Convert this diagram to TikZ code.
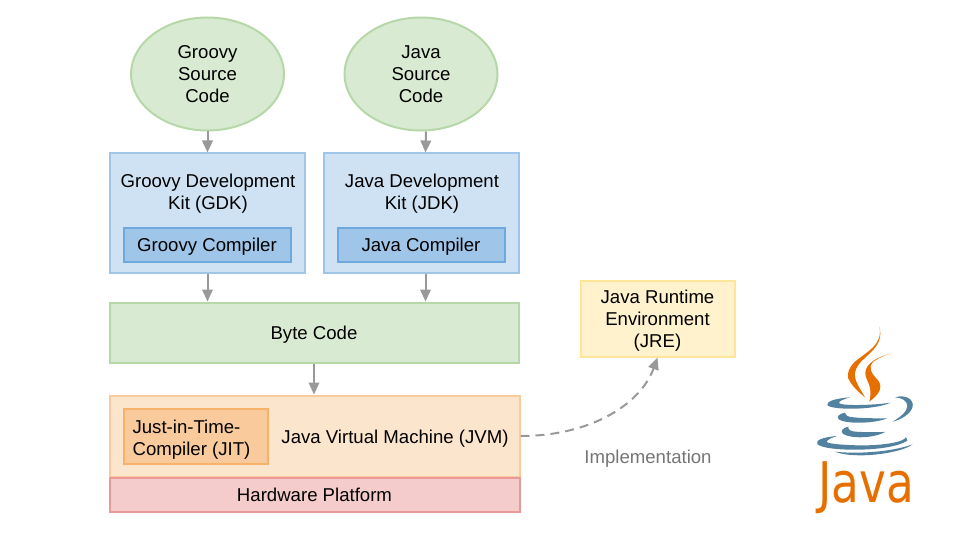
\documentclass[tikz,border=0pt]{standalone}
\usepackage{fontspec}
\setmainfont{Liberation Sans}
\newfontfamily\logofont{DejaVu Sans}
\usetikzlibrary{arrows.meta,shapes.geometric}
\definecolor{greenfill}{HTML}{D9EAD3}
\definecolor{greenline}{HTML}{B6D7A8}
\definecolor{bluefill}{HTML}{CFE2F3}
\definecolor{blueline}{HTML}{9FC5E8}
\definecolor{deepfill}{HTML}{9FC5E8}
\definecolor{deepline}{HTML}{6FA8DC}
\definecolor{yellowfill}{HTML}{FFF2CC}
\definecolor{yellowline}{HTML}{FFE599}
\definecolor{orangefill}{HTML}{FCE5CD}
\definecolor{orangeline}{HTML}{F9CB9C}
\definecolor{jitfill}{HTML}{F9CB9C}
\definecolor{jitline}{HTML}{F6B26B}
\definecolor{redfill}{HTML}{F4CCCC}
\definecolor{redline}{HTML}{EA9999}
\definecolor{arrowgray}{HTML}{999999}
\definecolor{labelgray}{HTML}{757575}
\definecolor{javaorange}{HTML}{E76F00}
\definecolor{javablue}{HTML}{5382A1}
\tikzset{
  txt/.style={inner sep=0pt,align=center,font=\fontsize{18.6}{22}\selectfont},
  box/.style={draw=#1,line width=2pt,txt},
  oneline/.style={text height=18pt,text depth=4pt},
  srcnode/.style={ellipse,box=greenline,fill=greenfill,minimum width=153,minimum height=113},
  flow/.style={draw=arrowgray,line width=2pt,-{Triangle[length=12pt,width=10.5pt]}},
}
\begin{document}
\begin{tikzpicture}[x=1pt,y=-1pt]
\useasboundingbox (0,0) rectangle (960,540);
% sources
\node[srcnode] (groovysrc) at (207.5,74) {Groovy\\Source\\Code};
\node[srcnode] (javasrc) at (421,74) {Java\\Source\\Code};
% kits
\node[box=blueline,fill=bluefill,minimum width=195,minimum height=119] (gdk) at (207.5,213) {};
\node[txt] (gdktext) at (208,194) {Groovy Development\\Kit (GDK)};
\node[box=deepline,fill=deepfill,oneline,minimum width=167,minimum height=34] (groovyc) at (207,244.5) {Groovy Compiler};
\node[box=blueline,fill=bluefill,minimum width=195,minimum height=119] (jdk) at (421.5,213) {};
\node[txt] (jdktext) at (422,194) {Java Development\\Kit (JDK)};
\node[box=deepline,fill=deepfill,oneline,minimum width=167,minimum height=34] (javac) at (421,244.5) {Java Compiler};
% byte code and below
\node[box=greenline,fill=greenfill,oneline,minimum width=409,minimum height=60] (bytecode) at (314,332.5) {Byte Code};
\node[box=orangeline,fill=orangefill,minimum width=410,minimum height=81] (jvm) at (314.5,436) {};
\node[txt] (jvmtext) at (395,439) {Java Virtual Machine (JVM)};
\node[box=jitline,fill=jitfill,minimum width=144,minimum height=55] (jit) at (195.5,436) {};
\node[txt,align=left] (jittext) at (191.5,440) {Just-in-Time-\\Compiler (JIT)};
\node[box=redline,fill=redfill,oneline,minimum width=410,minimum height=34] (hardware) at (314.5,494.5) {Hardware Platform};
\node[box=yellowline,fill=yellowfill,minimum width=154,minimum height=76] (jre) at (657.5,318.5) {};
\node[txt] (jretext) at (657.5,321) {Java Runtime\\Environment\\(JRE)};
\node[txt,text=labelgray] (impl) at (648,458.5) {Implementation};
% arrows
\draw[flow] (groovysrc.south) -- (gdk.north);
\draw[flow] ([xshift=5pt]javasrc.south) -- ([xshift=4pt]jdk.north);
\draw[flow] (gdk.south) -- (gdk.south |- bytecode.north);
\draw[flow] ([xshift=4pt]jdk.south) -- ([xshift=4pt]jdk.south |- bytecode.north);
\draw[flow] (bytecode.south) -- (bytecode.south |- jvm.north);
\draw[flow,dash pattern=on 9pt off 6pt] (jvm.east) .. controls +(70,0) and +(-17,47) .. (jre.south);
% logo
\begin{scope}[shift={(790,310)},scale=.3333]
\fill[javaorange] (268,50) .. controls (280,105) and (230,125) .. (195,155) .. controls (170,178) and (170,205) .. (180,215) .. controls (190,232) and (210,250) .. (225,262) .. controls (205,225) and (180,200) .. (205,165) .. controls (225,135) and (285,110) .. (268,50) -- cycle;
\fill[javaorange] (305,130) .. controls (265,140) and (225,160) .. (226,190) .. controls (227,215) and (250,225) .. (238,275) .. controls (265,255) and (280,235) .. (265,212) .. controls (245,190) and (232,175) .. (250,155) .. controls (265,145) and (285,135) .. (305,130) -- cycle;
\fill[javablue] (180,262) .. controls (130,266) and (110,275) .. (112,285) .. controls (120,300) and (250,302) .. (302,278) .. controls (250,286) and (160,288) .. (148,280) .. controls (142,275) and (160,268) .. (180,262) -- cycle;
\fill[javablue] (315,262) .. controls (350,252) and (372,270) .. (368,290) .. controls (362,312) and (335,328) .. (308,335) .. controls (330,322) and (352,305) .. (352,288) .. controls (352,272) and (335,263) .. (315,262) -- cycle;
\fill[javablue] (165,308) .. controls (145,312) and (140,320) .. (146,328) .. controls (165,342) and (250,342) .. (292,325) .. controls (250,325) and (185,325) .. (172,318) .. controls (168,316) and (168,312) .. (165,308) -- cycle;
\fill[javablue] (175,350) .. controls (155,355) and (150,365) .. (160,372) .. controls (180,386) and (250,386) .. (285,366) .. controls (250,366) and (195,368) .. (182,362) .. controls (176,360) and (174,355) .. (175,350) -- cycle;
\fill[javablue] (140,378) .. controls (95,382) and (75,392) .. (82,402) .. controls (100,425) and (300,428) .. (352,392) .. controls (352,388) and (350,384) .. (347,382) .. controls (345,395) and (280,408) .. (200,406) .. controls (140,404) and (100,400) .. (112,392) .. controls (118,386) and (130,382) .. (140,378) -- cycle;
\fill[javablue] (135,425) .. controls (190,432) and (300,428) .. (368,403) .. controls (330,432) and (190,448) .. (135,425) -- cycle;
\end{scope}
\node[inner sep=0pt,text=javaorange,font=\logofont\fontsize{56}{56}\selectfont,xscale=.81,transform shape] (javaword) at (866,488) {Java};
\end{tikzpicture}
\end{document}
